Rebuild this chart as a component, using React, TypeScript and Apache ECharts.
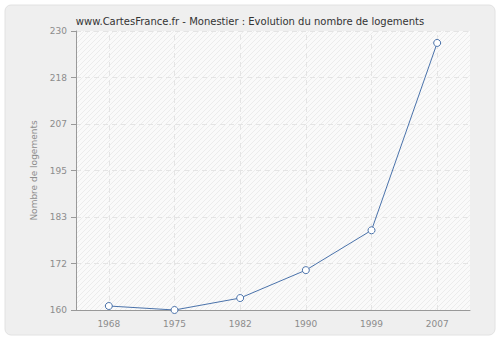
import React, { useEffect, useRef } from "react";
import * as echarts from "echarts";

const years = ["1968", "1975", "1982", "1990", "1999", "2007"];
const logements = [161, 160, 163, 170, 180, 227];
const yMin = 160;
const yMax = 230;
const yTickCount = 6;

function makeHatch(): HTMLCanvasElement | string {
  try {
    const c = document.createElement("canvas");
    c.width = 5;
    c.height = 5;
    const ctx = c.getContext("2d");
    if (!ctx) return "#f8f8f8";
    ctx.fillStyle = "#fafafa";
    ctx.fillRect(0, 0, 5, 5);
    ctx.strokeStyle = "#ececec";
    ctx.lineWidth = 1;
    ctx.beginPath();
    ctx.moveTo(-1, 6);
    ctx.lineTo(6, -1);
    ctx.stroke();
    return c;
  } catch (e) {
    return "#f8f8f8";
  }
}

export default function App() {
  const ref = useRef<HTMLDivElement>(null);
  useEffect(() => {
    if (!ref.current) return;
    const chart = echarts.init(ref.current, null, { renderer: "svg" });
    const hatch = makeHatch();
    const bg: any = typeof hatch === "string" ? hatch : { image: hatch, repeat: "repeat" };
    chart.setOption({
      animation: false,
      backgroundColor: "#ffffff",
      graphic: [
        {
          type: "rect",
          z: -10,
          shape: { x: 5, y: 5, width: 490, height: 330, r: 6 },
          style: { fill: "#efefef", stroke: "#e2e2e2", lineWidth: 1 },
        },
      ],
      title: {
        text: "www.CartesFrance.fr - Monestier : Evolution du nombre de logements",
        left: "center",
        top: 11,
        textStyle: { fontFamily: "DejaVu Sans", fontSize: 10, fontWeight: "normal", color: "#333333" },
      },
      grid: {
        left: 76,
        right: 30,
        top: 31,
        bottom: 30,
        show: true,
        backgroundColor: bg,
        borderWidth: 0,
      },
      xAxis: {
        type: "category",
        data: years,
        boundaryGap: true,
        axisLine: { lineStyle: { color: "#999999", width: 1 } },
        axisTick: { alignWithLabel: true, length: 5, lineStyle: { color: "#999999" } },
        axisLabel: { color: "#8c8c8c", fontFamily: "DejaVu Sans", fontSize: 9, margin: 9 },
        splitLine: { show: false },
      },
      yAxis: {
        type: "value",
        min: 0,
        max: yMax - yMin,
        interval: (yMax - yMin) / yTickCount,
        name: "Nombre de logements",
        nameLocation: "middle",
        nameGap: 31,
        nameTextStyle: { color: "#8c8c8c", fontFamily: "DejaVu Sans", fontSize: 9 },
        axisLine: { show: true, lineStyle: { color: "#999999", width: 1 } },
        axisTick: { show: true, length: 5, lineStyle: { color: "#999999" } },
        axisLabel: {
          color: "#8c8c8c",
          fontFamily: "DejaVu Sans",
          fontSize: 9,
          margin: 9,
          formatter: (v: number) => String(Math.round(v + yMin)),
        },
        splitLine: { show: true, lineStyle: { color: "#e4e4e4", type: [5, 4], width: 1 } },
      },
      series: [
        {
          type: "line",
          data: logements.map((v) => v - yMin),
          symbol: "circle",
          symbolSize: 7,
          showSymbol: true,
          lineStyle: { color: "#4a72aa", width: 1 },
          itemStyle: { color: "#ffffff", borderColor: "#4a72aa", borderWidth: 1 },
          z: 5,
          markLine: {
            silent: true,
            symbol: ["none", "none"],
            label: { show: false },
            lineStyle: { color: "#e4e4e4", type: [5, 4], width: 1 },
            z: 1,
            data: years.map((y) => ({ xAxis: y })),
          },
        },
      ],
    });
    return () => chart.dispose();
  }, []);
  return (
    <div
      ref={ref}
      style={{ position: "fixed", left: 0, top: 0, width: 500, height: 340 }}
    />
  );
}
